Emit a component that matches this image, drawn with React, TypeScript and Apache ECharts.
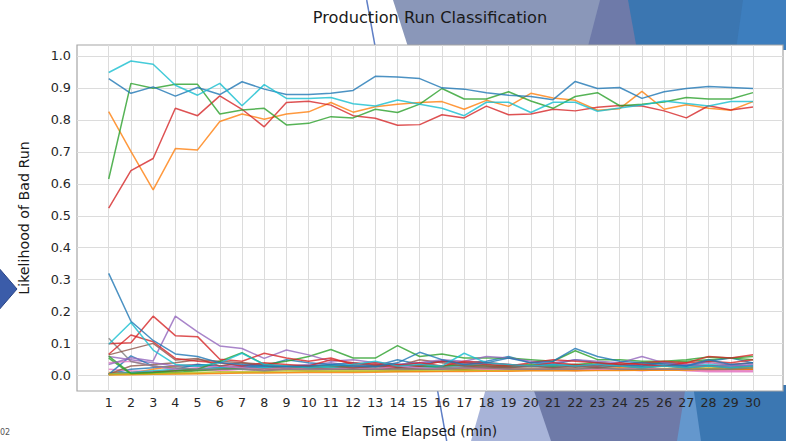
import React, { useEffect, useRef } from "react";
import * as echarts from "echarts";

// ---- data ----
const timeMinutes = [1,2,3,4,5,6,7,8,9,10,11,12,13,14,15,16,17,18,19,20,21,22,23,24,25,26,27,28,29,30];
const yTickLabels = ["0.0","0.1","0.2","0.3","0.4","0.5","0.6","0.7","0.8","0.9","1.0"];

// runs classified as bad (high likelihood)
const badBlue   = [0.929,0.883,0.903,0.874,0.901,0.879,0.919,0.896,0.879,0.879,0.883,0.892,0.936,0.934,0.929,0.900,0.896,0.885,0.877,0.873,0.863,0.920,0.898,0.901,0.867,0.888,0.898,0.904,0.901,0.898];
const badCyan   = [0.948,0.984,0.974,0.908,0.877,0.914,0.844,0.910,0.867,0.867,0.870,0.850,0.843,0.862,0.849,0.836,0.813,0.855,0.855,0.823,0.855,0.855,0.827,0.837,0.846,0.859,0.851,0.843,0.857,0.857];
const badGreen  = [0.615,0.914,0.899,0.911,0.911,0.818,0.831,0.836,0.784,0.789,0.810,0.806,0.833,0.823,0.849,0.898,0.865,0.865,0.888,0.859,0.836,0.873,0.885,0.844,0.849,0.856,0.870,0.865,0.865,0.885];
const badRed    = [0.524,0.641,0.679,0.836,0.813,0.875,0.833,0.778,0.854,0.858,0.846,0.813,0.805,0.783,0.785,0.816,0.806,0.843,0.816,0.818,0.833,0.828,0.839,0.845,0.843,0.828,0.806,0.844,0.831,0.840];
const badOrange = [0.826,0.701,0.581,0.710,0.706,0.795,0.818,0.802,0.818,0.825,0.854,0.824,0.841,0.849,0.854,0.857,0.833,0.861,0.842,0.883,0.868,0.861,0.830,0.835,0.889,0.833,0.847,0.836,0.830,0.857];

// runs classified as good (low likelihood)
const good01 = [0.320,0.170,0.110,0.068,0.060,0.040,0.035,0.030,0.028,0.030,0.035,0.030,0.028,0.040,0.073,0.050,0.035,0.040,0.055,0.040,0.045,0.085,0.060,0.045,0.040,0.035,0.030,0.050,0.035,0.040];
const good02 = [0.098,0.166,0.080,0.035,0.030,0.040,0.070,0.035,0.030,0.025,0.030,0.035,0.045,0.030,0.035,0.030,0.070,0.040,0.035,0.030,0.035,0.030,0.035,0.030,0.025,0.030,0.025,0.030,0.025,0.030];
const good03 = [0.100,0.103,0.186,0.125,0.122,0.051,0.045,0.070,0.055,0.045,0.055,0.035,0.040,0.035,0.030,0.045,0.040,0.035,0.030,0.040,0.050,0.045,0.040,0.035,0.040,0.045,0.040,0.060,0.055,0.065];
const good04 = [0.067,0.127,0.106,0.054,0.045,0.040,0.030,0.040,0.035,0.030,0.050,0.040,0.035,0.030,0.040,0.030,0.045,0.040,0.035,0.030,0.040,0.035,0.030,0.040,0.035,0.030,0.040,0.045,0.040,0.050];
const good05 = [0.035,0.056,0.046,0.186,0.137,0.093,0.085,0.054,0.080,0.065,0.045,0.050,0.040,0.035,0.040,0.050,0.045,0.060,0.055,0.045,0.040,0.050,0.045,0.040,0.060,0.040,0.035,0.040,0.035,0.030];
const good06 = [0.065,0.083,0.101,0.049,0.054,0.030,0.040,0.035,0.030,0.030,0.030,0.025,0.030,0.030,0.050,0.040,0.030,0.030,0.025,0.030,0.025,0.030,0.025,0.030,0.025,0.030,0.025,0.030,0.025,0.030];
const good07 = [0.117,0.044,0.030,0.025,0.020,0.020,0.020,0.015,0.020,0.020,0.020,0.020,0.020,0.020,0.020,0.020,0.025,0.025,0.020,0.020,0.020,0.020,0.025,0.020,0.020,0.020,0.020,0.020,0.020,0.025];
const good08 = [0.061,0.007,0.010,0.015,0.020,0.045,0.072,0.035,0.045,0.060,0.082,0.055,0.055,0.094,0.060,0.068,0.055,0.055,0.055,0.050,0.045,0.078,0.050,0.050,0.045,0.045,0.050,0.058,0.055,0.050];
const good09 = [0.040,0.045,0.030,0.020,0.025,0.030,0.025,0.020,0.025,0.020,0.020,0.025,0.020,0.030,0.025,0.020,0.025,0.020,0.020,0.020,0.020,0.020,0.020,0.020,0.025,0.020,0.020,0.015,0.015,0.015];
const good10 = [0.005,0.005,0.006,0.008,0.010,0.012,0.012,0.013,0.015,0.015,0.015,0.016,0.015,0.016,0.017,0.018,0.018,0.018,0.020,0.020,0.020,0.020,0.020,0.021,0.022,0.022,0.022,0.024,0.025,0.025];
const good11 = [0.003,0.003,0.004,0.005,0.006,0.007,0.008,0.008,0.009,0.010,0.010,0.010,0.011,0.012,0.012,0.013,0.013,0.014,0.014,0.015,0.015,0.015,0.016,0.016,0.017,0.017,0.018,0.018,0.019,0.020];
const good12 = [0.004,0.062,0.030,0.020,0.035,0.030,0.025,0.030,0.050,0.040,0.035,0.040,0.030,0.050,0.035,0.045,0.040,0.045,0.060,0.040,0.035,0.050,0.040,0.035,0.030,0.040,0.030,0.045,0.055,0.040];
const good13 = [0.060,0.050,0.040,0.030,0.035,0.030,0.030,0.035,0.030,0.035,0.040,0.030,0.030,0.035,0.040,0.045,0.035,0.040,0.035,0.030,0.035,0.030,0.035,0.030,0.035,0.030,0.035,0.030,0.030,0.035];
const good14 = [0.055,0.005,0.008,0.010,0.015,0.020,0.025,0.020,0.025,0.030,0.030,0.030,0.030,0.035,0.030,0.030,0.035,0.030,0.030,0.035,0.030,0.035,0.040,0.035,0.040,0.040,0.045,0.050,0.055,0.060];
const good15 = [0.005,0.030,0.035,0.040,0.050,0.045,0.040,0.030,0.025,0.025,0.020,0.020,0.020,0.025,0.020,0.020,0.020,0.025,0.020,0.020,0.020,0.025,0.020,0.020,0.020,0.020,0.020,0.020,0.020,0.020];
const good16 = [0.005,0.010,0.015,0.020,0.020,0.025,0.020,0.025,0.030,0.030,0.025,0.030,0.035,0.030,0.025,0.030,0.030,0.035,0.030,0.030,0.030,0.035,0.030,0.030,0.030,0.030,0.030,0.035,0.030,0.030];
const good17 = [0.005,0.010,0.012,0.015,0.020,0.020,0.025,0.020,0.025,0.025,0.030,0.025,0.030,0.025,0.030,0.030,0.030,0.025,0.030,0.030,0.035,0.030,0.035,0.030,0.035,0.040,0.035,0.030,0.035,0.040];
const good18 = [0.003,0.004,0.005,0.006,0.007,0.008,0.009,0.010,0.011,0.012,0.012,0.012,0.013,0.013,0.014,0.014,0.015,0.015,0.015,0.016,0.016,0.016,0.017,0.017,0.017,0.018,0.018,0.018,0.019,0.019];
const good19 = [0.020,0.015,0.012,0.015,0.020,0.015,0.020,0.015,0.020,0.015,0.020,0.020,0.020,0.015,0.020,0.020,0.015,0.020,0.020,0.020,0.020,0.015,0.020,0.020,0.015,0.020,0.015,0.012,0.012,0.012];
const good20 = [0.010,0.008,0.020,0.030,0.035,0.030,0.025,0.020,0.020,0.022,0.025,0.020,0.020,0.018,0.020,0.020,0.022,0.020,0.020,0.022,0.020,0.020,0.020,0.025,0.022,0.020,0.025,0.022,0.025,0.030];
const good21 = [0.003,0.008,0.012,0.015,0.018,0.020,0.020,0.022,0.022,0.025,0.025,0.025,0.025,0.025,0.025,0.025,0.025,0.027,0.027,0.027,0.028,0.028,0.028,0.028,0.028,0.030,0.030,0.030,0.030,0.030];
const good22 = [0.005,0.020,0.025,0.030,0.030,0.025,0.030,0.025,0.030,0.025,0.020,0.025,0.030,0.025,0.030,0.025,0.020,0.025,0.025,0.020,0.025,0.020,0.025,0.020,0.025,0.020,0.025,0.020,0.020,0.025];

const C = {
  blue: "#1f77b4", orange: "#ff7f0e", green: "#2ca02c", red: "#d62728", purple: "#9467bd",
  brown: "#8c564b", pink: "#e377c2", grey: "#7f7f7f", olive: "#bcbd22", cyan: "#17becf",
};

const runs: { name: string; values: number[]; color: string }[] = [
  { name: "g22", values: good22, color: C.blue },
  { name: "g21", values: good21, color: C.grey },
  { name: "g20", values: good20, color: C.orange },
  { name: "g19", values: good19, color: C.pink },
  { name: "g18", values: good18, color: C.olive },
  { name: "g17", values: good17, color: C.red },
  { name: "g16", values: good16, color: C.cyan },
  { name: "g15", values: good15, color: C.brown },
  { name: "g14", values: good14, color: C.green },
  { name: "g13", values: good13, color: C.purple },
  { name: "g12", values: good12, color: C.blue },
  { name: "g11", values: good11, color: C.orange },
  { name: "g10", values: good10, color: C.olive },
  { name: "g09", values: good09, color: C.pink },
  { name: "g08", values: good08, color: C.green },
  { name: "g07", values: good07, color: C.grey },
  { name: "g06", values: good06, color: C.brown },
  { name: "g05", values: good05, color: C.purple },
  { name: "g04", values: good04, color: C.red },
  { name: "g03", values: good03, color: C.red },
  { name: "g02", values: good02, color: C.cyan },
  { name: "g01", values: good01, color: C.blue },
  { name: "badOrange", values: badOrange, color: C.orange },
  { name: "badRed", values: badRed, color: C.red },
  { name: "badGreen", values: badGreen, color: C.green },
  { name: "badBlue", values: badBlue, color: C.blue },
  { name: "badCyan", values: badCyan, color: C.cyan },
];

// ---- layout ----
const W = 786, H = 441;
const FRAME = { left: 77, top: 45, right: 783, bottom: 391 };
const X_FIRST_PX = 108.7, X_LAST_PX = 753.0;
const Y_MIN = -0.048, Y_MAX = 1.034;
const FONT = "DejaVu Sans";

export default function App() {
  const ref = useRef<HTMLDivElement>(null);
  useEffect(() => {
    document.body.style.margin = "0";
    if (!ref.current) return;
    const chart = echarts.init(ref.current, null, { renderer: "svg" });
    const fh = FRAME.bottom - FRAME.top;
    const pxPerUnit = fh / (Y_MAX - Y_MIN);
    const innerTop = FRAME.top + (Y_MAX - 1) * pxPerUnit;

    const deco: any[] = [
      // top band shapes
      { type: "polygon", z: -10, silent: true, shape: { points: [[393, 0], [W, 0], [W, 50], [409, 50]] }, style: { fill: "#8a97b9" } },
      { type: "polygon", z: -10, silent: true, shape: { points: [[600, 0], [W, 0], [W, 50], [587, 50]] }, style: { fill: "#6e7aa9" } },
      { type: "polygon", z: -10, silent: true, shape: { points: [[628, 0], [W, 0], [W, 50], [637, 50]] }, style: { fill: "#3b76b1" } },
      { type: "polygon", z: -10, silent: true, shape: { points: [[743, 0], [W, 0], [W, 50], [736, 50]] }, style: { fill: "#3d7ebe" } },
      // bottom band shapes
      { type: "polygon", z: -10, silent: true, shape: { points: [[487, 385], [W, 385], [W, H], [471, H]] }, style: { fill: "#a8b4d9" } },
      { type: "polygon", z: -10, silent: true, shape: { points: [[532, 385], [W, 385], [W, H], [551, H]] }, style: { fill: "#6e7aa8" } },
      { type: "polygon", z: -10, silent: true, shape: { points: [[686, 385], [W, 385], [W, H], [677, H]] }, style: { fill: "#6497cd" } },
      { type: "polygon", z: -10, silent: true, shape: { points: [[693, 385], [W, 385], [W, H], [701, H]] }, style: { fill: "#3b77b2" } },
      // thin diagonal line
      { type: "line", z: -9, silent: true, shape: { x1: 366.7, y1: 0, x2: 446.7, y2: H }, style: { stroke: "#5f7fc6", lineWidth: 1.5 } },
      // left arrow
      { type: "polygon", z: -9, silent: true, shape: { points: [[-2, 267], [17, 289], [-2, 311]] }, style: { fill: "#3b5ca9", stroke: "#2b4484", lineWidth: 1 } },
      // footer fragment
      { type: "text", z: -9, silent: true, x: 0, y: 432, style: { text: "02", fontSize: 8, fill: "#555", fontFamily: FONT, textVerticalAlign: "middle" } },
      // title
      { type: "text", z: 5, silent: true, x: (FRAME.left + FRAME.right) / 2, y: 17, style: { text: "Production Run Classification", fontSize: 16.2, fill: "#1a1a1a", fontFamily: FONT, textAlign: "center", textVerticalAlign: "middle" } },
      // y-axis title
      { type: "text", z: 5, silent: true, x: 24, y: (FRAME.top + FRAME.bottom) / 2, rotation: Math.PI / 2, style: { text: "Likelihood of Bad Run", fontSize: 14.2, fill: "#1a1a1a", fontFamily: FONT, textAlign: "center", textVerticalAlign: "middle" } },
      // x-axis title
      { type: "text", z: 5, silent: true, x: (FRAME.left + FRAME.right) / 2, y: 431, style: { text: "Time Elapsed (min)", fontSize: 13.9, fill: "#1a1a1a", fontFamily: FONT, textAlign: "center", textVerticalAlign: "middle" } },
    ];

    chart.setOption({
      animation: false,
      backgroundColor: "transparent",
      graphic: { elements: deco },
      grid: [
        { left: FRAME.left, top: FRAME.top, width: FRAME.right - FRAME.left, height: fh, show: true, backgroundColor: "#ffffff", borderColor: "#a6a6a6", borderWidth: 1.2 },
        { left: FRAME.left, top: innerTop, width: FRAME.right - FRAME.left, height: pxPerUnit },
        { left: X_FIRST_PX, top: FRAME.top, width: X_LAST_PX - X_FIRST_PX, height: fh },
      ],
      xAxis: [
        { gridIndex: 0, type: "value", min: 0, max: 1, show: false },
        { gridIndex: 1, type: "value", min: 0, max: 1, show: false },
        {
          gridIndex: 2, type: "value", min: timeMinutes[0], max: timeMinutes[timeMinutes.length - 1], interval: 1,
          axisLine: { show: false }, axisTick: { show: false },
          axisLabel: { fontSize: 12.6, color: "#262626", fontFamily: FONT, margin: 5, formatter: (v: number) => String(v) },
          splitLine: { show: true, lineStyle: { color: "#dcdcdc", width: 1 } },
        },
      ],
      yAxis: [
        { gridIndex: 0, type: "value", min: 0, max: 1, show: false },
        {
          gridIndex: 1, type: "value", min: 0, max: 1, interval: 0.1,
          axisLine: { show: false }, axisTick: { show: false },
          axisLabel: { fontSize: 12.8, color: "#262626", fontFamily: FONT, margin: 6, formatter: (v: number) => yTickLabels[Math.round(v * 10)] ?? "" },
          splitLine: { show: true, lineStyle: { color: "#dcdcdc", width: 1 } },
        },
        { gridIndex: 2, type: "value", min: Y_MIN, max: Y_MAX, show: false },
      ],
      series: runs.map((r) => ({
        name: r.name,
        type: "line",
        xAxisIndex: 2,
        yAxisIndex: 2,
        showSymbol: false,
        symbol: "none",
        silent: true,
        data: r.values.map((v, i) => [timeMinutes[i], v]),
        lineStyle: { color: r.color, width: 1.5, opacity: 0.8 },
        itemStyle: { color: r.color },
      })),
    });
    return () => chart.dispose();
  }, []);
  return <div ref={ref} style={{ width: W, height: H }} />;
}
